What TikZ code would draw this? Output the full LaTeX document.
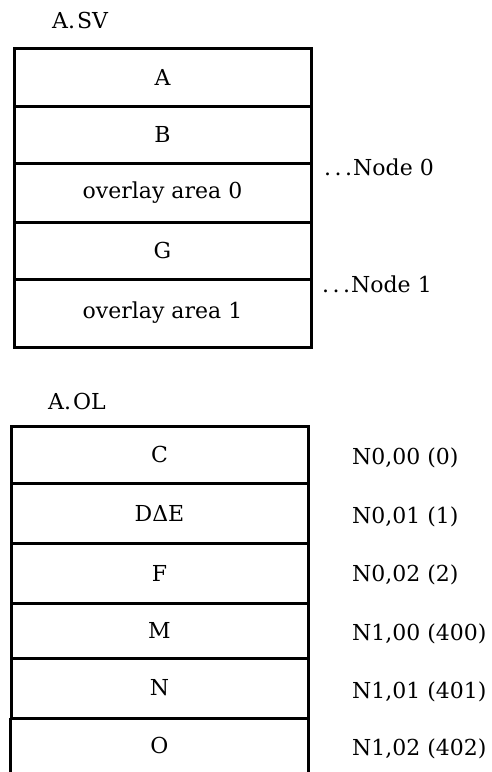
\documentclass[tikz,border=0pt]{standalone}
\usepackage{fontspec}
\setmainfont{DejaVu Serif}
\newcommand{\bigdots}{.\kern3.5pt.\kern3.5pt.\kern1pt}
\begin{document}
\begin{tikzpicture}[x=1pt,y=-1pt,
  txt/.style={font=\fontsize{22}{26}\selectfont},
  cell/.style={txt, draw, line width=3pt, minimum width=297pt, inner sep=0pt},
  opencell/.style={txt, minimum width=297pt, inner sep=0pt},
  lbl/.style={txt, anchor=west, inner sep=0pt},
  side/.style={line width=3pt}]
\useasboundingbox (0,0) rectangle (492,772);
% A.SV
\node[lbl] (sv) at (52,20) {A.\kern2pt SV};
\node[cell, minimum height=58pt] (a) at (162.5,77) {A};
\node[cell, minimum height=57pt] (b) at (162.5,134.5) {B};
\node[cell, minimum height=59pt] (ov0) at (162.5,192.5) {overlay area 0};
\node[cell, minimum height=57pt] (g) at (162.5,250.5) {G};
\node[cell, minimum height=68pt] (ov1) at (162.5,313) {overlay area 1};
\node[lbl] (n0) at (324,167) {\bigdots Node 0};
\node[lbl] (n1) at (322,284) {\bigdots Node 1};
% A.OL
\node[lbl] (ol) at (48,401) {A.\kern2pt OL};
\node[cell, minimum height=57pt] (c) at (159.5,454.5) {C};
\node[cell, minimum height=60pt] (de) at (159.5,513) {DΔE};
\node[cell, minimum height=60pt] (f) at (159.5,573) {F};
\node[cell, minimum height=55pt] (m) at (159.5,630.5) {M};
\node[cell, minimum height=60pt] (n) at (159.5,688) {N};
\node[opencell, minimum height=54pt] (o) at (159.5,745) {O};
\draw[side] (o.north west) -- (o.south west);
\draw[side] (o.north east) -- (o.south east);
\node[lbl] (r0) at (352,458) {N0,00 (0)};
\node[lbl] (r1) at (352,517) {N0,01 (1)};
\node[lbl] (r2) at (352,575) {N0,02 (2)};
\node[lbl] (r3) at (352,634) {N1,00 (400)};
\node[lbl] (r4) at (352,692) {N1,01 (401)};
\node[lbl] (r5) at (352,749) {N1,02 (402)};
\end{tikzpicture}
\end{document}
